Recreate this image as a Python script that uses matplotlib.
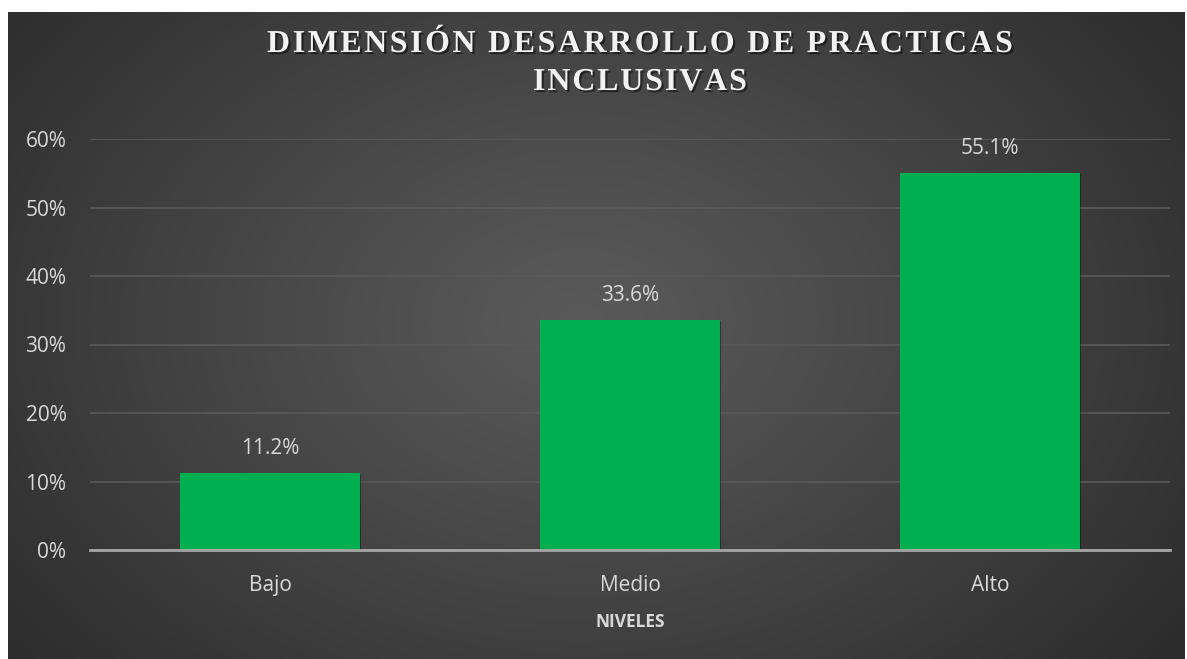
import matplotlib.pyplot as plt
import matplotlib.patheffects as pe
import numpy as np

niveles = ['Bajo', 'Medio', 'Alto']
porcentajes = [0.112, 0.336, 0.551]
etiquetas = ['11.2%', '33.6%', '55.1%']
yticks = [0, 0.1, 0.2, 0.3, 0.4, 0.5, 0.6]
ytick_labels = ['0%', '10%', '20%', '30%', '40%', '50%', '60%']
title_lines = ['DIMENSIÓN DESARROLLO DE PRACTICAS', 'INCLUSIVAS']

W, H = 1187, 659
fig = plt.figure(figsize=(W / 100, H / 100), dpi=100)
fig.patch.set_facecolor('white')

# dark radial-gradient background (chart area)
bx0, bx1, by_top = 8, 1185, 12
bg = fig.add_axes([bx0 / W, 0, (bx1 - bx0) / W, (H - by_top) / H])
yy, xx = np.mgrid[0:200, 0:360]
cx, cy = 175, 95
r = np.sqrt(((xx - cx) / 260.0) ** 2 + ((yy - cy) / 190.0) ** 2)
r = np.clip(r, 0, 1)
shade = 0x5a - (0x5a - 0x25) * r ** 1.1
img = np.dstack([shade, shade, shade]) / 255.0
bg.imshow(img, aspect='auto', extent=[0, 1, 0, 1], interpolation='bilinear')
bg.set_axis_off()

tick_color = '#d9d9d9'
font = ['Open Sans', 'DejaVu Sans']

ax = fig.add_axes([90 / W, (H - 550) / H, 1080 / W, (550 - 139) / H])
ax.patch.set_alpha(0)
x = np.arange(len(niveles))
bars = ax.bar(x, porcentajes, width=0.5, color='#00b050', zorder=3,
              path_effects=[pe.SimplePatchShadow(offset=(1, -1), shadow_rgbFace='black', alpha=0.35),
                            pe.Normal()])
for xi, v, lab in zip(x, porcentajes, etiquetas):
    ax.annotate(lab, (xi, v), xytext=(0, 10), textcoords='offset points',
                ha='center', va='bottom', color=tick_color, fontsize=15, family=font)

ax.set_xlim(-0.5, 2.5)
ax.set_ylim(0, 0.6)
ax.set_yticks(yticks)
ax.set_yticklabels(ytick_labels, family=font, fontsize=15, color=tick_color)
ax.set_xticks(x)
ax.set_xticklabels(niveles, family=font, fontsize=15, color=tick_color)
ax.tick_params(axis='both', length=0)
ax.tick_params(axis='y', pad=17)
ax.tick_params(axis='x', pad=18)
ax.grid(axis='y', color='#5a5a5a', linewidth=1.2, zorder=0)
for s in ['top', 'right', 'left']:
    ax.spines[s].set_visible(False)
ax.spines['bottom'].set_color('#a6a6a6')
ax.spines['bottom'].set_linewidth(2)
ax.spines['bottom'].set_zorder(4)
ax.set_xlabel('NIVELES', family=font, fontsize=12.5, fontweight='bold', color=tick_color, labelpad=12)

# title with letter spacing
renderer = fig.canvas.get_renderer()
title_kw = dict(family='Liberation Serif', fontweight='bold', fontsize=23, color='#f2f2f2',
                va='baseline', ha='left',
                path_effects=[pe.withSimplePatchShadow(offset=(1.5, -1.5), shadow_rgbFace='black', alpha=0.5)])


def spaced_line(text, x_left, x_right, y_px):
    widths = []
    for ch in text:
        if ch == ' ':
            widths.append(None)
            continue
        t = fig.text(0, 0, ch, **title_kw)
        widths.append(t.get_window_extent(renderer).width)
        t.remove()
    space_w = 7.5
    widths = [space_w if w is None else w for w in widths]
    gap = (x_right - x_left - sum(widths)) / (len(text) - 1)
    xpos = x_left
    for ch, w in zip(text, widths):
        if ch != ' ':
            fig.text(xpos / W, 1 - y_px / H, ch, **title_kw)
        xpos += w + gap


spaced_line(title_lines[0], 267, 1013, 52)
spaced_line(title_lines[1], 533, 747, 90)

fig.savefig('out.png', dpi=100)
